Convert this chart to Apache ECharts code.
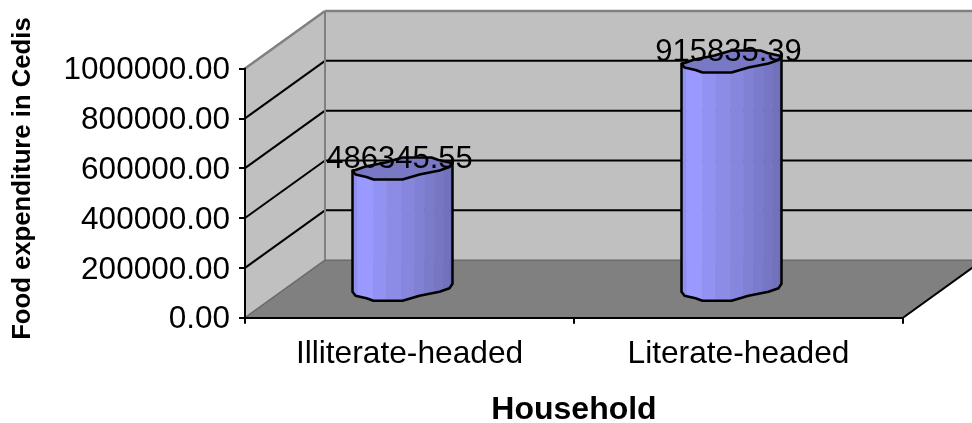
<!DOCTYPE html>
<html>
<head>
<meta charset="utf-8">
<style>html,body{margin:0;padding:0;background:#fff}#c{width:972px;height:423px}</style>
<script src="https://cdn.jsdelivr.net/npm/echarts@6/dist/echarts.min.js"></script>
</head>
<body>
<div id="c"></div>
<script>
var categories = ['Illiterate-headed', 'Literate-headed'];
var foodExpenditure = [486345.55, 915835.39];
var yTicks = [0, 200000, 400000, 600000, 800000, 1000000];

var FONT = '"Liberation Sans", Arial, sans-serif';
var DX = 80, DY = -57.5;          // oblique depth of the plot box
var CYL_DX = -7, CYL_DY = -28;    // cylinder axis relative to the category centre
// front rim of the faceted cylinder, relative to its axis
var RIM = [[-50, 2], [-47, 6], [-36, 8.5], [-29, 11], [0, 11], [17, 6], [37, 2], [47, -1.5], [50, -6]];
var FACET_X = [-50, -45, -29, -16, -1, 12, 22, 32, 41, 47, 50];
var FACET_COLORS = ['#8F8FEF', '#9999FF', '#9292F2', '#8C8CE6', '#8686DE', '#8080D4', '#7B7BCC', '#7676C4', '#7272BC', '#6E6EB8'];

var chart = echarts.init(document.getElementById('c'), null, {renderer: 'canvas'});

function poly(points, fill, stroke, lw) {
  return {type: 'polygon', shape: {points: points},
    style: {fill: fill, stroke: stroke || null, lineWidth: lw || 0, lineJoin: 'round'}};
}
function line(a, b, color, lw) {
  return {type: 'line', shape: {x1: a[0], y1: a[1], x2: b[0], y2: b[1]},
    style: {stroke: color, lineWidth: lw}};
}

function renderBox(params, api) {
  var band = api.size([1, 0])[0];
  var x0 = api.coord([0, 0])[0] - band / 2;
  var x1 = x0 + band * categories.length;
  var yb = api.coord([0, 0])[1];
  var yt = api.coord([0, yTicks[yTicks.length - 1]])[1];
  var kids = [];
  kids.push(poly([[x0 + DX, yt + DY], [x1 + DX, yt + DY], [x1 + DX, yb + DY], [x0 + DX, yb + DY]], '#C0C0C0'));
  kids.push(poly([[x0, yt], [x0 + DX, yt + DY], [x0 + DX, yb + DY], [x0, yb]], '#C0C0C0'));
  kids.push(poly([[x0, yb], [x0 + DX, yb + DY], [x1 + DX, yb + DY], [x1, yb]], '#808080'));
  yTicks.forEach(function (t) {
    if (t === 0 || t === yTicks[yTicks.length - 1]) return;
    var y = api.coord([0, t])[1];
    kids.push(line([x0, y], [x0 + DX, y + DY], '#000', 2));
    kids.push(line([x0 + DX, y + DY], [x1 + DX, y + DY], '#000', 2));
  });
  kids.push(line([x0, yt], [x0 + DX, yt + DY], '#808080', 2.5));
  kids.push(line([x0 + DX, yt + DY], [x1 + DX, yt + DY], '#808080', 2.5));
  kids.push(line([x0 + DX, yt + DY], [x0 + DX, yb + DY], '#808080', 2));
  kids.push(line([x0, yb], [x0 + DX, yb + DY], '#6a6a6a', 1.5));
  kids.push(line([x0 + DX, yb + DY], [x1 + DX, yb + DY], '#6a6a6a', 1.5));
  kids.push(line([x1, yb], [x1 + DX, yb + DY], '#000', 2));
  return {type: 'group', children: kids};
}

function rimY(x) {
  for (var i = 0; i < RIM.length - 1; i++) {
    if (x <= RIM[i + 1][0]) {
      var f = (x - RIM[i][0]) / (RIM[i + 1][0] - RIM[i][0]);
      return RIM[i][1] + f * (RIM[i + 1][1] - RIM[i][1]);
    }
  }
  return RIM[RIM.length - 1][1];
}
function shift(c, p) { return [c[0] + p[0], c[1] + p[1]]; }

function renderCylinder(params, api) {
  var i = api.value(0), v = api.value(1);
  var b = api.coord([i, 0]), t = api.coord([i, v]);
  var cb = [b[0] + CYL_DX, b[1] + CYL_DY], ct = [t[0] + CYL_DX, t[1] + CYL_DY];
  var kids = [], n;
  for (n = 0; n < FACET_COLORS.length; n++) {
    var xa = FACET_X[n], xb = FACET_X[n + 1], c = FACET_COLORS[n];
    kids.push(poly([shift(ct, [xa, rimY(xa)]), shift(ct, [xb, rimY(xb)]),
                    shift(cb, [xb, rimY(xb)]), shift(cb, [xa, rimY(xa)])], c, c, 0.5));
  }
  var outline = [shift(ct, RIM[0])];
  RIM.forEach(function (p) { outline.push(shift(cb, p)); });
  outline.push(shift(ct, RIM[RIM.length - 1]));
  kids.push({type: 'polyline', shape: {points: outline},
    style: {fill: null, stroke: '#000', lineWidth: 2.5, lineJoin: 'round'}});
  var top = RIM.map(function (p) { return shift(ct, p); })
    .concat(RIM.slice(1, -1).map(function (p) { return shift(ct, [-p[0], -p[1]]); }));
  kids.push(poly(top, '#7878C4', '#000', 2.5));
  kids.push({type: 'text', x: t[0] - 10, y: t[1] - 37.5,
    style: {text: v.toFixed(2), font: '31px ' + FONT, fill: '#000',
      textAlign: 'center', textVerticalAlign: 'middle'}});
  return {type: 'group', children: kids};
}

chart.setOption({
  animation: false,
  backgroundColor: '#fff',
  grid: {left: 245, top: 68.5, width: 658, height: 249.2, containLabel: false, outerBoundsMode: 'none'},
  xAxis: {
    type: 'category', data: categories, z: 3,
    name: 'Household', nameLocation: 'middle', nameGap: 76,
    nameTextStyle: {fontFamily: FONT, fontWeight: 'bold', fontSize: 32, color: '#000'},
    axisLine: {lineStyle: {color: '#000', width: 2}},
    axisTick: {show: true, alignWithLabel: false, length: 6, lineStyle: {color: '#000', width: 2}},
    axisLabel: {fontFamily: FONT, fontSize: 31.7, color: '#000', margin: 21}
  },
  yAxis: {
    type: 'value', min: 0, max: 1000000, interval: 200000, z: 3,
    name: 'Food expenditure in Cedis', nameLocation: 'middle', nameGap: 209,
    nameRotate: 90,
    nameTextStyle: {fontFamily: FONT, fontWeight: 'bold', fontSize: 25.7, color: '#000', padding: [0, 0, 0, 29]},
    splitLine: {show: false},
    axisLine: {show: true, lineStyle: {color: '#000', width: 2}},
    axisTick: {show: true, length: 6, lineStyle: {color: '#000', width: 2}},
    axisLabel: {color: '#000', margin: 15,
      rich: {v: {fontFamily: FONT, fontSize: 31.5, color: '#000', padding: [4, 0, 0, 0]}},
      formatter: function (x) { return '{v|' + x.toFixed(2) + '}'; }}
  },
  series: [
    {type: 'custom', coordinateSystem: 'cartesian2d', z: 1, silent: true, clip: false,
      renderItem: renderBox, data: [[0, 0]]},
    {type: 'custom', coordinateSystem: 'cartesian2d', z: 5, silent: true, clip: false,
      renderItem: renderCylinder,
      data: foodExpenditure.map(function (v, i) { return [i, v]; })}
  ]
});
</script>
</body>
</html>
